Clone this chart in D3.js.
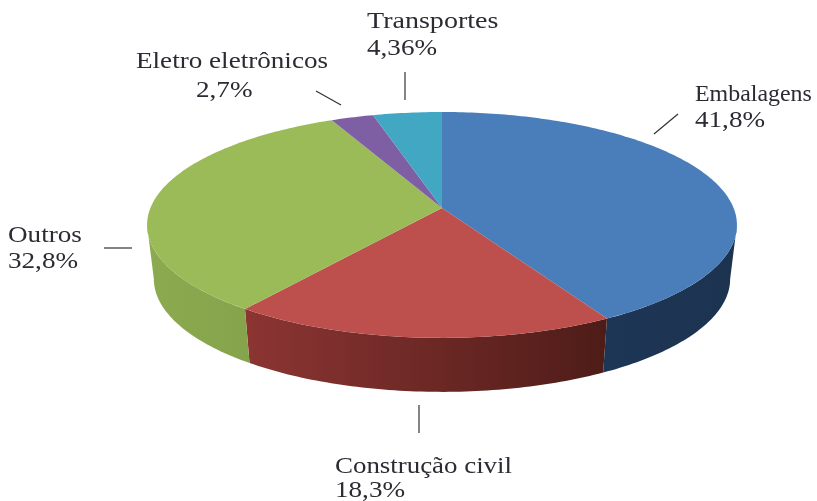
<!DOCTYPE html>
<html>
<head>
<meta charset="utf-8">
<script src="https://cdn.jsdelivr.net/npm/d3@7/dist/d3.min.js"></script>
<style>
  html, body { margin: 0; padding: 0; background: #fff; overflow: hidden; }
  svg { display: block; filter: blur(0.55px); }
  text { font-family: "Liberation Serif", serif; font-size: 23px; fill: #2b2b33; }
</style>
</head>
<body>
<script>
var categories = ['Embalagens', 'Construção civil', 'Outros', 'Eletro eletrônicos', 'Transportes'];
var shares = [41.8, 18.3, 32.8, 2.7, 4.36];
var shareLabels = ['41,8%', '18,3%', '32,8%', '2,7%', '4,36%'];
var topColors = ['#4a7ebb', '#bd4f4c', '#9bbb59', '#7f5fa3', '#41a7c3'];
var sideLeft = ['#1f3a5c', '#8c3533', '#8cab50', '#5a4373', '#2e7a90'];
var sideRight = ['#1c3350', '#4e1c18', '#7f9d47', '#5a4373', '#2e7a90'];

var width = 817, height = 501;

var svg = d3.select('body').append('svg')
  .attr('width', width)
  .attr('height', height);

// the pie is tilted with real perspective, so the apex sits above the ellipse centre
var cx = 442, apexY = 208, rX = 291.6, rY = 110.4, persp = 0.15;
var depth = 54, bottomScale = 0.977;

// the wall only shows between the two widest points of the ellipse
var wallStart = Math.acos(-persp);
var wallEnd = 2 * Math.PI - wallStart;

function project(angle, low) {
  var u = Math.sin(angle), v = Math.cos(angle);
  var w = 1 + persp * v;
  var sx = low ? rX * bottomScale : rX;
  return [cx + sx * u / w, apexY + (low ? depth : 0) - rY * v / w];
}

function arcPoints(a0, a1, low) {
  var n = Math.max(4, Math.ceil((a1 - a0) * 60));
  return d3.range(n + 1).map(function(i) {
    return project(a0 + (a1 - a0) * i / n, low);
  });
}

var slices = d3.pie().sort(null).value(function(d) { return d; })(shares);
var line = d3.line();

var defs = svg.append('defs');
slices.forEach(function(d, i) {
  var pts = arcPoints(d.startAngle, d.endAngle, false);
  var grad = defs.append('linearGradient')
    .attr('id', 'side' + i)
    .attr('gradientUnits', 'userSpaceOnUse')
    .attr('x1', d3.min(pts, function(p) { return p[0]; }))
    .attr('x2', d3.max(pts, function(p) { return p[0]; }))
    .attr('y1', 0)
    .attr('y2', 0);
  grad.append('stop').attr('offset', 0).attr('stop-color', sideLeft[i]);
  grad.append('stop').attr('offset', 1).attr('stop-color', sideRight[i]);
});

svg.append('g').selectAll('path')
  .data(slices)
  .enter().append('path')
  .attr('d', function(d) {
    var a0 = Math.max(d.startAngle, wallStart);
    var a1 = Math.min(d.endAngle, wallEnd);
    if (a1 <= a0) return null;
    return line(arcPoints(a0, a1, false).concat(arcPoints(a0, a1, true).reverse())) + 'Z';
  })
  .attr('fill', function(d, i) { return 'url(#side' + i + ')'; });

svg.append('g').selectAll('path')
  .data(slices)
  .enter().append('path')
  .attr('d', function(d) {
    return line([[cx, apexY]].concat(arcPoints(d.startAngle, d.endAngle, false))) + 'Z';
  })
  .attr('fill', function(d, i) { return topColors[i]; });

// label placement follows the picture, same order as categories
var labelX = [695, 335, 8, 136, 367];
var labelY = [101, 473, 242, 68, 28];
var valueX = [695, 335, 8, 196, 367];
var valueY = [127, 497, 268, 97, 55];
// the source type is stretched sideways, Embalagens less so it stays inside the page
var labelStretch = [1.04, 1.17, 1.18, 1.18, 1.22];
var valueStretch = 1.18;
var leaders = [
  [654, 134, 678, 114],
  [419, 405, 419, 433],
  [104, 248, 132, 248],
  [316, 91, 341, 105],
  [405, 72, 405, 100]
];

svg.append('g').selectAll('line')
  .data(leaders)
  .enter().append('line')
  .attr('x1', function(d) { return d[0]; })
  .attr('y1', function(d) { return d[1]; })
  .attr('x2', function(d) { return d[2]; })
  .attr('y2', function(d) { return d[3]; })
  .attr('stroke', '#333')
  .attr('stroke-width', 1.2);

var labels = svg.append('g');
categories.forEach(function(name, i) {
  labels.append('text')
    .attr('transform', 'translate(' + labelX[i] + ',' + labelY[i] + ') scale(' + labelStretch[i] + ',1)')
    .text(name);
  labels.append('text')
    .attr('transform', 'translate(' + valueX[i] + ',' + valueY[i] + ') scale(' + valueStretch + ',1)')
    .text(shareLabels[i]);
});
</script>
</body>
</html>
